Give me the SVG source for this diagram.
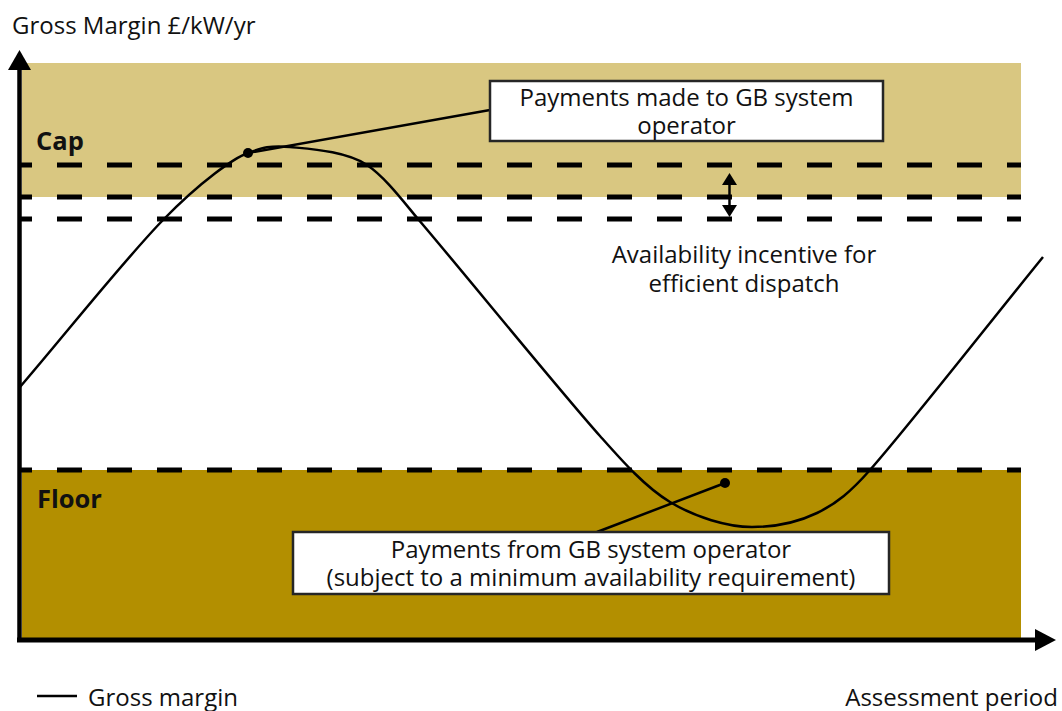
<svg xmlns="http://www.w3.org/2000/svg" width="1062" height="711" viewBox="0 0 1062 711">
<style>
text{font-family:"Open Sans","Noto Sans","DejaVu Sans",sans-serif;fill:#111}
.t{font-size:24px}
.b{font-size:25.5px;font-weight:bold}
.dash{stroke:#000;stroke-width:5;stroke-dasharray:25 25;stroke-dashoffset:13;fill:none}
.box{fill:#fff;stroke:#262626;stroke-width:2.5}
.lead{stroke:#000;stroke-width:2.5;fill:none}
</style>
<rect width="1062" height="711" fill="#fff"/>
<g id="bands">
<rect x="22" y="63" width="999" height="134" fill="#D9C781"/>
<rect x="22" y="470" width="999" height="168" fill="#B38F00"/>
</g>
<g id="thresholds">
<line class="dash" x1="20" y1="165" x2="1021" y2="165"/>
<line class="dash" x1="20" y1="197" x2="1021" y2="197"/>
<line class="dash" x1="20" y1="219" x2="1021" y2="219"/>
<line class="dash" x1="20" y1="470" x2="1021" y2="470"/>
</g>
<g id="axes">
<line x1="19.5" y1="642" x2="19.5" y2="66" stroke="#000" stroke-width="4.5"/>
<path d="M19.5,50 L31,70 L8,70 Z" fill="#000"/>
<line x1="17" y1="640" x2="1038" y2="640" stroke="#000" stroke-width="5"/>
<path d="M1056,640 L1035,629 L1035,651 Z" fill="#000"/>
<text class="t" x="12" y="34">Gross Margin £/kW/yr</text>
<text class="t" x="1058" y="706" text-anchor="end">Assessment period</text>
</g>
<g id="gross-margin-curve">
<path d="M20,387 C67.7,331.3 125,259 163,220 C201,181 234,158 248,153 C262,148 270.2,145 290,147 C309.8,149 346,151 367,165 C385,177 403,201 418,219 C456.8,264.2 558,388.8 600,436 C621,459.6 644.7,486.8 670,502 C695.3,517.2 727.5,527 752,527 C776.5,527 797.3,522.5 817,513 C836.7,503.5 851.1,491.4 870,470 C907.7,427.3 985.3,328 1043,257" fill="none" stroke="#000" stroke-width="2.5"/>
</g>
<g id="labels">
<text class="b" x="36" y="150">Cap</text>
<text class="b" x="37" y="508">Floor</text>
<text class="t" x="744" y="263" text-anchor="middle">Availability incentive for</text>
<text class="t" x="744" y="292" text-anchor="middle">efficient dispatch</text>
</g>
<g id="connectors">
<line class="lead" x1="248" y1="153" x2="490" y2="110"/>
<circle cx="248" cy="153" r="5" fill="#000"/>
<line class="lead" x1="725" y1="483" x2="597" y2="532"/>
<circle cx="725" cy="483" r="5" fill="#000"/>
<line x1="729.5" y1="183" x2="729.5" y2="206" stroke="#000" stroke-width="2.5"/>
<path d="M729.5,173 L737,185 L722,185 Z" fill="#000"/>
<path d="M729.5,217 L737,205 L722,205 Z" fill="#000"/>
</g>
<g id="box-payments-to">
<rect class="box" x="490" y="81" width="393" height="60"/>
<text class="t" x="686.5" y="106" text-anchor="middle">Payments made to GB system</text>
<text class="t" x="686.5" y="134" text-anchor="middle">operator</text>
</g>
<g id="box-payments-from">
<rect class="box" x="293" y="532" width="596" height="62"/>
<text class="t" x="591" y="558" text-anchor="middle">Payments from GB system operator</text>
<text class="t" x="591" y="586" text-anchor="middle">(subject to a minimum availability requirement)</text>
</g>
<g id="legend">
<line x1="37" y1="696" x2="77" y2="696" stroke="#000" stroke-width="2.5"/>
<text class="t" x="88" y="706">Gross margin</text>
</g>
</svg>
